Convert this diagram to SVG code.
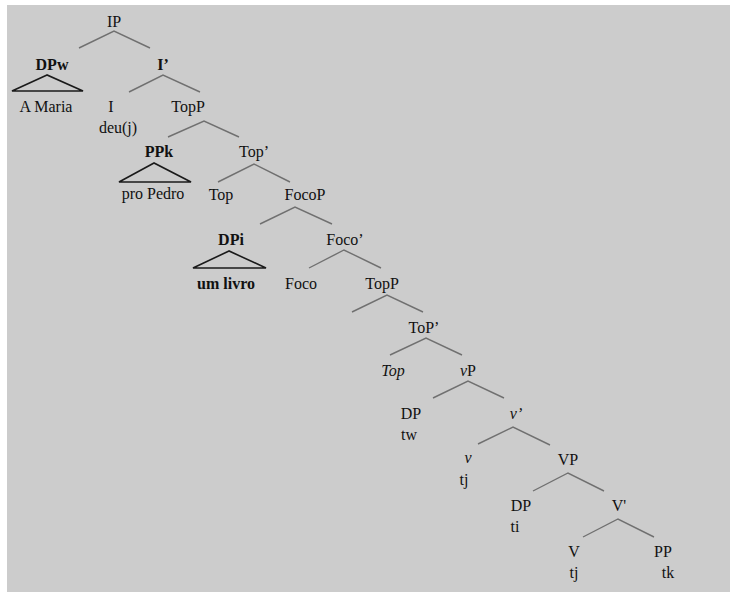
<svg xmlns="http://www.w3.org/2000/svg" width="730" height="592" viewBox="0 0 730 592">
  <style>
    text { font-family: "Liberation Serif", "Times New Roman", serif; font-size: 16px; fill: #111; text-anchor: middle; }
    .b { font-weight: bold; }
    .i { font-style: italic; }
    .edge { stroke: #707070; stroke-width: 1.4; fill: none; }
    .tri { stroke: #1a1a1a; stroke-width: 1.6; fill: none; stroke-linejoin: miter; }
  </style>
  <rect x="0" y="0" width="730" height="592" fill="#ffffff"/>
  <rect x="7" y="5" width="723" height="587" fill="#cccccc"/>

  <!-- branches -->
  <g id="connectors">
    <polyline class="edge" points="79,48 114,31 150,48"/>
    <polyline class="edge" points="129,92 163,75 200,92"/>
    <polyline class="edge" points="168,137 204,121 239,137"/>
    <polyline class="edge" points="218,182 254,164 290,182"/>
    <polyline class="edge" points="260,224 295,207 332,224"/>
    <polyline class="edge" points="309,268 344,250 381,268"/>
    <polyline class="edge" points="352,312 387,295 423,312"/>
    <polyline class="edge" points="390,355 426,338 462,355"/>
    <polyline class="edge" points="433,398 468,381 504,398"/>
    <polyline class="edge" points="478,444 513,427 550,445"/>
    <polyline class="edge" points="533,491 568,473 604,491"/>
    <polyline class="edge" points="583,537 618,519 654,537"/>
  </g>

  <g id="IP"><text x="114" y="27">IP</text></g>
  <g id="DPw">
    <text class="b" x="52" y="70">DPw</text>
    <polygon class="tri" points="47,75 12,91 83,91"/>
    <text x="46" y="112">A Maria</text>
  </g>
  <g id="Ibar"><text class="b" x="163" y="70">I’</text></g>
  <g id="I">
    <text x="111" y="112">I</text>
    <text x="118" y="133">deu(j)</text>
  </g>
  <g id="TopP1"><text x="188" y="112">TopP</text></g>
  <g id="PPk">
    <text class="b" x="159" y="157">PPk</text>
    <polygon class="tri" points="154,163 119,182 191,182"/>
    <text x="153" y="199">pro Pedro</text>
  </g>
  <g id="Topbar1"><text x="254" y="157">Top’</text></g>
  <g id="Top1"><text x="221" y="200">Top</text></g>
  <g id="FocoP"><text x="305" y="200">FocoP</text></g>
  <g id="DPi">
    <text class="b" x="231" y="245">DPi</text>
    <polygon class="tri" points="229,251 193,268 266,268"/>
    <text class="b" x="226" y="289">um livro</text>
  </g>
  <g id="Focobar"><text x="345" y="245">Foco’</text></g>
  <g id="Foco"><text x="301" y="289">Foco</text></g>
  <g id="TopP2"><text x="382" y="289">TopP</text></g>
  <g id="ToPbar"><text x="424" y="333">ToP’</text></g>
  <g id="Top2"><text class="i" x="393" y="376">Top</text></g>
  <g id="vP"><text x="468" y="376"><tspan class="i">v</tspan>P</text></g>
  <g id="DPw-trace">
    <text x="411" y="419">DP</text>
    <text x="409" y="440">tw</text>
  </g>
  <g id="vbar"><text class="i" x="516" y="419">v’</text></g>
  <g id="v">
    <text class="i" x="468" y="463">v</text>
    <text x="464" y="485">tj</text>
  </g>
  <g id="VP"><text x="568" y="465">VP</text></g>
  <g id="DPi-trace">
    <text x="521" y="511">DP</text>
    <text x="515" y="532">ti</text>
  </g>
  <g id="Vbar"><text x="619" y="511">V'</text></g>
  <g id="V">
    <text x="574" y="557">V</text>
    <text x="574" y="578">tj</text>
  </g>
  <g id="PP">
    <text x="663" y="557">PP</text>
    <text x="668" y="578">tk</text>
  </g>
</svg>
